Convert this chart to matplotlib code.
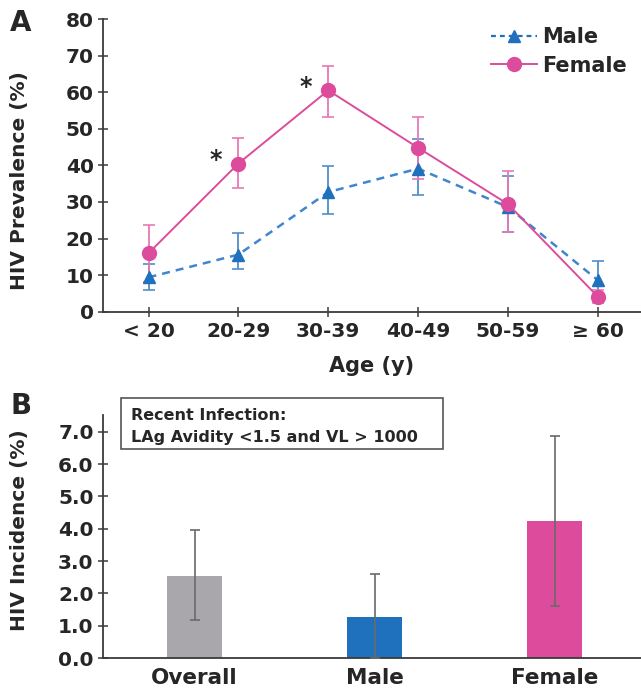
import matplotlib
matplotlib.use('Agg')
import matplotlib.pyplot as plt
from matplotlib.lines import Line2D
from matplotlib.patches import Rectangle
import numpy as np

# data
age_groups = ['< 20', '20-29', '30-39', '40-49', '50-59', '≥ 60']
male_prev = [9.4, 15.6, 32.7, 39.1, 28.6, 8.6]
male_low = [5.9, 11.6, 26.6, 31.8, 21.8, 3.5]
male_high = [13.0, 21.4, 39.8, 47.3, 37.2, 13.8]
female_prev = [16.0, 40.5, 60.5, 44.8, 29.4, 4.1]
female_low = [8.2, 33.8, 53.2, 36.4, 21.8, 2.5]
female_high = [23.8, 47.5, 67.1, 53.2, 38.4, 5.8]
signif = ['20-29', '30-39']

groups = ['Overall', 'Male', 'Female']
incidence = [2.55, 1.28, 4.24]
inc_low = [1.19, 0.0, 1.60]
inc_high = [3.95, 2.59, 6.88]

# styling
plt.rcParams['font.family'] = 'DejaVu Sans'
plt.rcParams['font.weight'] = 'bold'
plt.rcParams['text.color'] = '#262626'
pink = '#dd4c9c'
blue = '#1f70bd'
grey = '#a9a7ac'
axcol = '#3a3a3a'

fig = plt.figure(figsize=(6.41, 6.94), dpi=100)
W, H = 641, 694

def px_axes(l, t, r, b):
    return fig.add_axes([l / W, 1 - b / H, (r - l) / W, (b - t) / H])

def style_axes(ax):
    for s in ['top', 'right']:
        ax.spines[s].set_visible(False)
    for s in ['left', 'bottom']:
        ax.spines[s].set_color(axcol)
        ax.spines[s].set_linewidth(1.3)
    ax.tick_params(direction='inout', length=7, width=1.1, color=axcol,
                   labelsize=14.5, labelcolor='#262626')

# panel A
axA = px_axes(102.7, 19, 641, 311.7)
style_axes(axA)
x = np.arange(len(age_groups))
mp = np.array(male_prev)
fp = np.array(female_prev)
axA.errorbar(x, mp, yerr=[mp - np.array(male_low), np.array(male_high) - mp],
             fmt='none', ecolor='#4f8fcc', elinewidth=1.3, capsize=4, capthick=1.2, zorder=2)
axA.errorbar(x, fp, yerr=[fp - np.array(female_low), np.array(female_high) - fp],
             fmt='none', ecolor='#e679b5', elinewidth=1.3, capsize=4, capthick=1.2, zorder=2)
axA.plot(x, mp, color='#3f86cc', lw=1.8, ls=(0, (3.2, 2.4)), zorder=3)
axA.plot(x, mp, ls='none', marker='^', ms=9, color=blue, zorder=4)
axA.plot(x, fp, color=pink, lw=1.4, marker='o', ms=10, zorder=5)
for g in signif:
    i = age_groups.index(g)
    axA.text(i - 0.25, female_prev[i] + 1.0, '*', fontsize=17, ha='center', va='center')
axA.set_xlim(-0.51, 5.48)
axA.set_ylim(0, 80)
axA.set_yticks(range(0, 81, 10))
axA.set_xticks(x)
axA.set_xticklabels(age_groups)
axA.tick_params(axis='x', pad=4)
axA.tick_params(axis='y', pad=3)

handles = [Line2D([], [], color=blue, ls=(0, (2.2, 1.8)), lw=1.6, marker='^', ms=9),
           Line2D([], [], color=pink, lw=1.4, marker='o', ms=10)]
axA.legend(handles, ['Male', 'Female'], loc='upper right', frameon=False,
           fontsize=15, handlelength=2.2, handletextpad=0.25, labelspacing=0.4,
           borderaxespad=0.0, bbox_to_anchor=(0.99, 1.0))

fig.text(372 / W, 1 - 366 / H, 'Age (y)', ha='center', va='center', fontsize=15)
fig.text(20 / W, 1 - 181 / H, 'HIV Prevalence (%)', ha='center', va='center',
         rotation=90, fontsize=14.5)
fig.text(21 / W, 1 - 23 / H, 'A', ha='center', va='center', fontsize=20)

# panel B
axB = px_axes(102.7, 415, 641, 658)
style_axes(axB)
xb = np.arange(len(groups))
inc = np.array(incidence)
axB.bar(xb, inc, width=0.31, color=[grey, blue, pink], zorder=2)
axB.errorbar(xb, inc, yerr=[inc - np.array(inc_low), np.array(inc_high) - inc],
             fmt='none', ecolor='#6a6a6a', elinewidth=1.2, capsize=3.5, capthick=1.2, zorder=3)
axB.set_xlim(-0.51, 2.48)
axB.set_ylim(0, 7.52)
axB.set_yticks(np.arange(0, 7.01, 1.0))
axB.set_yticklabels([f'{v:.1f}' for v in np.arange(0, 7.01, 1.0)])
axB.set_xticks(xb)
axB.set_xticklabels(groups, fontsize=15.5)
axB.tick_params(axis='x', length=0, pad=7)
axB.tick_params(axis='y', pad=3)

axB.add_patch(Rectangle((0.034, 0.86), 0.598, 0.21, transform=axB.transAxes,
                        fill=False, ec='#555555', lw=1.2, clip_on=False))
axB.text(0.0526, 1.0, 'Recent Infection:', transform=axB.transAxes,
         fontsize=11.5, va='center', ha='left')
axB.text(0.0526, 0.909, 'LAg Avidity <1.5 and VL > 1000', transform=axB.transAxes,
         fontsize=11.5, va='center', ha='left')

fig.text(20 / W, 1 - 530 / H, 'HIV Incidence (%)', ha='center', va='center',
         rotation=90, fontsize=14.5)
fig.text(21 / W, 1 - 406 / H, 'B', ha='center', va='center', fontsize=20)

fig.savefig('out.png', dpi=100)
